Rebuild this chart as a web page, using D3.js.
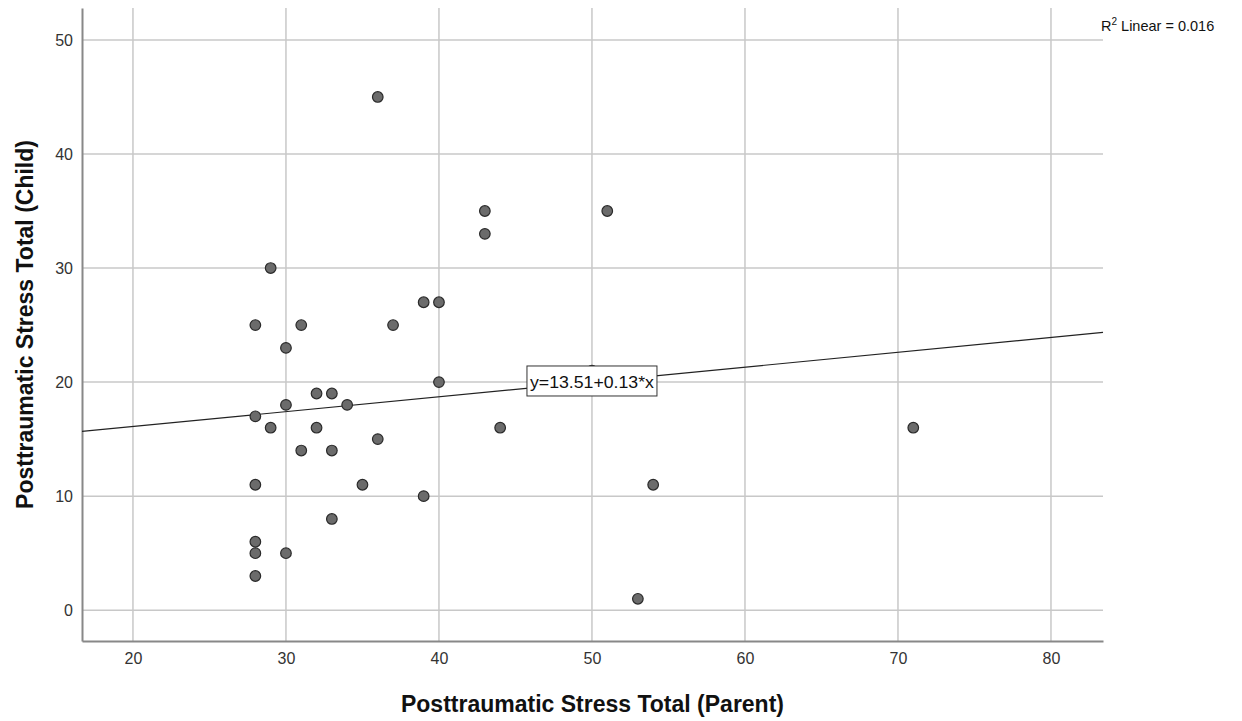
<!DOCTYPE html>
<html>
<head>
<meta charset="utf-8">
<style>
  body { margin: 0; background: #fff; }
  svg { display: block; }
  .tick text { font-family: "Liberation Sans", Arial, sans-serif; font-size: 16px; fill: #333; }
</style>
</head>
<body>
<svg width="1242" height="721"></svg>
<script src="https://d3js.org/d3.v7.min.js"></script>
<script>
// data
var parentScores = [36, 43, 51, 43, 29, 39, 40, 28, 31, 37, 30, 50, 40, 32, 33, 30, 34, 28,
                    29, 32, 44, 71, 36, 31, 33, 28, 35, 54, 39, 33, 28, 28, 30, 28, 53];
var childScores  = [45, 35, 35, 33, 30, 27, 27, 25, 25, 25, 23, 21, 20, 19, 19, 18, 18, 17,
                    16, 16, 16, 16, 15, 14, 14, 11, 11, 11, 10, 8, 6, 5, 5, 3, 1];
var xTicks = [20, 30, 40, 50, 60, 70, 80];
var yTicks = [0, 10, 20, 30, 40, 50];
var fitIntercept = 13.51, fitSlope = 0.13, rSquared = "0.016";

var svg = d3.select("svg");
var margin = {top: 8, right: 139, bottom: 80, left: 82},
    width = 1242 - margin.left - margin.right,
    height = 721 - margin.top - margin.bottom;

var x = d3.scaleLinear().domain([16.67, 83.4]).range([0, width]);
var y = d3.scaleLinear().domain([-2.7, 52.8]).range([height, 0]);

var g = svg.append("g").attr("transform", "translate(" + margin.left + "," + margin.top + ")");

// grid
g.append("g").selectAll("line").data(xTicks).enter().append("line")
  .attr("x1", function(d) { return x(d); }).attr("x2", function(d) { return x(d); })
  .attr("y1", 0).attr("y2", height)
  .attr("stroke", "#c8c8c8").attr("stroke-width", 1.5);
g.append("g").selectAll("line").data(yTicks).enter().append("line")
  .attr("y1", function(d) { return y(d); }).attr("y2", function(d) { return y(d); })
  .attr("x1", 0).attr("x2", width)
  .attr("stroke", "#c8c8c8").attr("stroke-width", 1.5);

// axes
var xAxis = g.append("g")
  .attr("transform", "translate(0," + height + ")")
  .call(d3.axisBottom(x).tickValues(xTicks).tickSize(0).tickPadding(12));
xAxis.select(".domain").attr("stroke", "#888").attr("stroke-width", 2);

var yAxis = g.append("g")
  .call(d3.axisLeft(y).tickValues(yTicks).tickSize(0).tickPadding(9));
yAxis.select(".domain").attr("stroke", "#888").attr("stroke-width", 2);

// fit line
var x0 = x.domain()[0], x1 = x.domain()[1];
g.append("line")
  .attr("x1", x(x0)).attr("y1", y(fitIntercept + fitSlope * x0))
  .attr("x2", x(x1)).attr("y2", y(fitIntercept + fitSlope * x1))
  .attr("stroke", "#222").attr("stroke-width", 1.2);

// points
g.selectAll(".dot")
  .data(parentScores.map(function(d, i) { return [d, childScores[i]]; }))
  .enter().append("circle")
  .attr("class", "dot")
  .attr("cx", function(d) { return x(d[0]); })
  .attr("cy", function(d) { return y(d[1]); })
  .attr("r", 5.3)
  .attr("fill", "#6b6b6b")
  .attr("stroke", "#2a2a2a")
  .attr("stroke-width", 1.2);

// equation label
var lx = x(50), ly = y(fitIntercept + fitSlope * 50);
g.append("rect")
  .attr("x", lx - 65).attr("y", ly - 16)
  .attr("width", 130).attr("height", 30)
  .attr("fill", "#fff").attr("stroke", "#333").attr("stroke-width", 1);
g.append("text")
  .attr("x", lx).attr("y", ly + 6)
  .attr("text-anchor", "middle")
  .attr("textLength", 124).attr("lengthAdjust", "spacingAndGlyphs")
  .style("font", "16px 'Liberation Sans', Arial, sans-serif")
  .attr("fill", "#111")
  .text("y=13.51+0.13*x");

// R squared
var r2 = svg.append("text")
  .attr("x", 1101).attr("y", 31)
  .style("font", "14.5px 'Liberation Sans', Arial, sans-serif")
  .attr("fill", "#111");
r2.append("tspan").text("R");
r2.append("tspan").attr("dy", -6).style("font-size", "10px").text("2");
r2.append("tspan").attr("dy", 6).text(" Linear = " + rSquared);

// axis titles
svg.append("text")
  .attr("x", margin.left + width / 2).attr("y", 712)
  .attr("text-anchor", "middle")
  .style("font", "bold 23px 'Liberation Sans', Arial, sans-serif")
  .attr("fill", "#111")
  .text("Posttraumatic Stress Total (Parent)");

svg.append("text")
  .attr("transform", "translate(33," + (margin.top + height / 2) + ") rotate(-90)")
  .attr("text-anchor", "middle")
  .style("font", "bold 23px 'Liberation Sans', Arial, sans-serif")
  .attr("fill", "#111")
  .text("Posttraumatic Stress Total (Child)");
</script>
</body>
</html>
